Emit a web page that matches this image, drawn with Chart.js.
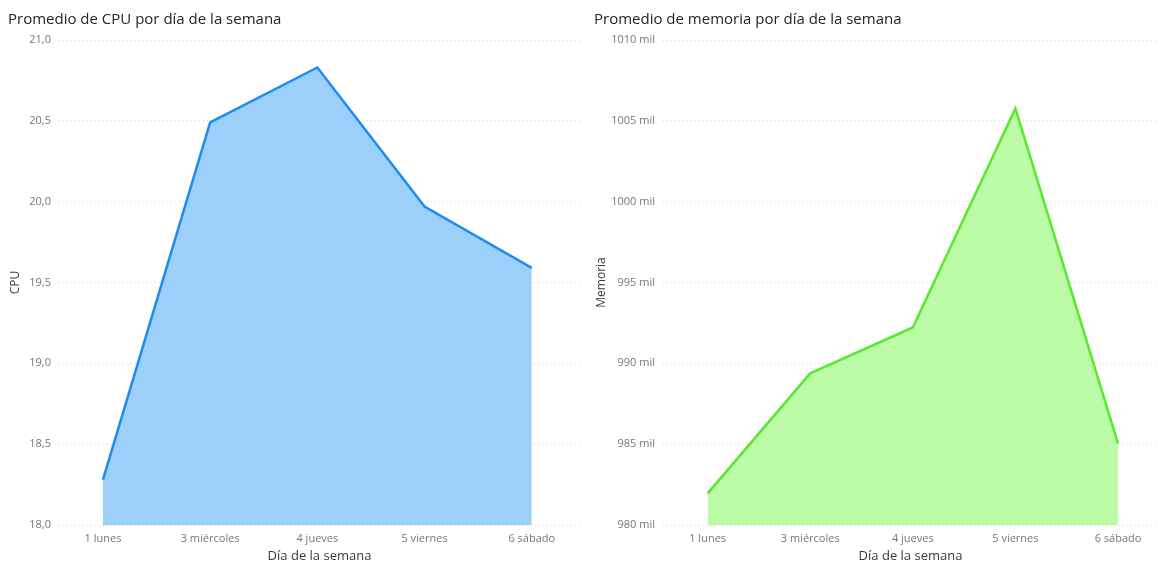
<!DOCTYPE html>
<html>
<head>
<meta charset="utf-8">
<script src="https://cdn.jsdelivr.net/npm/chart.js@4/dist/chart.umd.min.js"></script>
<style>
  html, body { margin: 0; padding: 0; background: #fff; }
  body { width: 1159px; height: 568px; position: relative; overflow: hidden; }
  .wrap { position: absolute; top: 0; height: 568px; }
  #w1 { left: 0; width: 585px; }
  #w2 { left: 585px; width: 574px; }
</style>
</head>
<body>
<div class="wrap" id="w1"><canvas id="c1"></canvas></div>
<div class="wrap" id="w2"><canvas id="c2"></canvas></div>
<script>
// ---- data ----
const days = ['1 lunes', '3 miércoles', '4 jueves', '5 viernes', '6 sábado'];
const cpuValues = [18.28, 20.49, 20.83, 19.97, 19.59];
const memValues = [981.96, 989.38, 992.22, 1005.77, 985.05]; // thousands
const cpuTicks = [18.0, 18.5, 19.0, 19.5, 20.0, 20.5, 21.0];
const memTicks = [980, 985, 990, 995, 1000, 1005, 1010];

const FONT = "'Open Sans', 'DejaVu Sans', sans-serif";
const TITLE_FONT = "'Open Sans', 'DejaVu Sans', sans-serif";

function makeChart(id, cfg) {
  const pts = cfg.values.map((v, i) => ({ x: i, y: v }));
  return new Chart(document.getElementById(id), {
    type: 'line',
    data: {
      datasets: [{
        data: pts,
        borderColor: cfg.line,
        backgroundColor: cfg.fill,
        borderWidth: 2.5,
        pointRadius: 0,
        pointHoverRadius: 0,
        tension: 0,
        fill: 'start'
      }]
    },
    options: {
      responsive: true,
      maintainAspectRatio: false,
      animation: false,
      layout: { padding: { left: cfg.padLeft, right: cfg.padRight, top: 0, bottom: 0 } },
      plugins: {
        legend: { display: false },
        tooltip: { enabled: false },
        title: {
          display: true,
          text: cfg.title,
          align: 'start',
          color: '#252423',
          font: { family: TITLE_FONT, size: 15, weight: 'normal' },
          padding: { top: 11, bottom: 11 }
        }
      },
      scales: {
        x: {
          type: 'linear',
          min: cfg.xmin,
          max: cfg.xmax,
          afterBuildTicks: (s) => { s.ticks = days.map((_, i) => ({ value: i })); },
          afterFit: (s) => { s.height = 43; },
          ticks: {
            autoSkip: false,
            maxRotation: 0,
            color: '#777',
            padding: -1,
            font: { family: FONT, size: 11 },
            callback: (v) => days[v] !== undefined ? days[v] : ''
          },
          grid: { display: false },
          border: { display: false },
          title: {
            display: true,
            text: 'Día de la semana',
            color: '#3a3a3a',
            font: { family: FONT, size: 13 },
            padding: { top: 2, bottom: 4 }
          }
        },
        y: {
          min: cfg.ymin,
          max: cfg.ymax,
          afterBuildTicks: (s) => { s.ticks = cfg.ticks.map(v => ({ value: v })); },
          afterFit: (s) => { s.width = cfg.yWidth; },
          ticks: {
            color: '#777',
            padding: 8,
            font: { family: FONT, size: 11 },
            callback: cfg.fmt
          },
          grid: { color: '#d6d6d6', lineWidth: 1, drawTicks: false },
          border: { display: false, dash: [1, 3] },
          title: {
            display: true,
            text: cfg.yTitle,
            color: '#3a3a3a',
            font: { family: FONT, size: 12 },
            padding: { top: 0, bottom: 0 }
          }
        }
      }
    }
  });
}

makeChart('c1', {
  title: 'Promedio de CPU por día de la semana',
  values: cpuValues,
  ticks: cpuTicks,
  ymin: 18, ymax: 21,
  xmin: -0.41, xmax: 4.45,
  padLeft: 8,
  yWidth: 51,
  padRight: 5,
  yTitle: 'CPU',
  line: '#1e8cf0',
  fill: '#9dcffb',
  fmt: (v) => v.toFixed(1).replace('.', ',')
});

makeChart('c2', {
  title: 'Promedio de memoria por día de la semana',
  values: memValues,
  ticks: memTicks,
  ymin: 980, ymax: 1010,
  xmin: -0.435, xmax: 4.39,
  padLeft: 9,
  yWidth: 69,
  padRight: 1,
  yTitle: 'Memoria',
  line: '#58e92e',
  fill: '#bcfca6',
  fmt: (v) => v + ' mil'
});
</script>
</body>
</html>
